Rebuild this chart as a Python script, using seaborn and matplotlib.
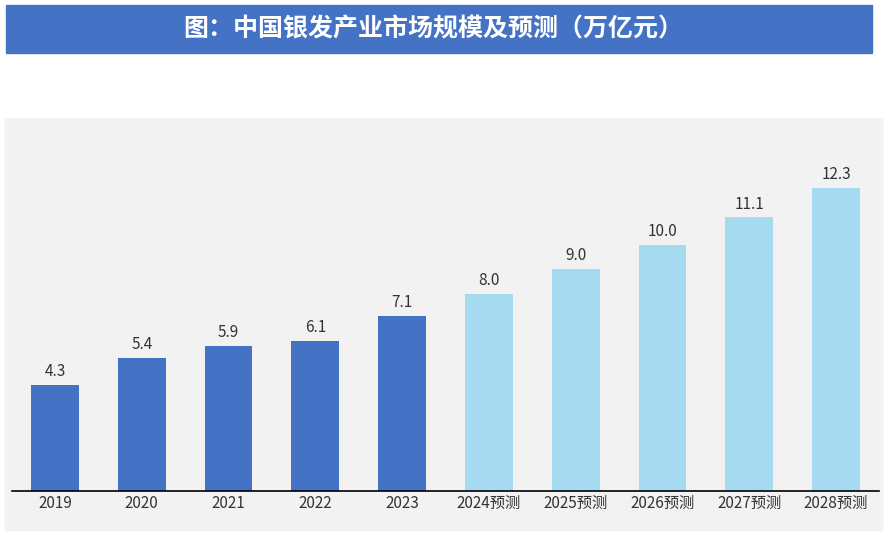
import pandas as pd
import matplotlib.pyplot as plt
import seaborn as sns
from matplotlib.patches import Rectangle

# Data
years = ['2019', '2020', '2021', '2022', '2023',
         '2024预测', '2025预测', '2026预测', '2027预测', '2028预测']
values = [4.3, 5.4, 5.9, 6.1, 7.1, 8.0, 9.0, 10.0, 11.1, 12.3]
kinds = ['实际'] * 5 + ['预测'] * 5

df = pd.DataFrame({'year': years, 'value': values, 'kind': kinds})

sns.set_theme(style="white")
plt.rcParams['font.family'] = ['Noto Sans CJK SC', 'DejaVu Sans']

fig = plt.figure(figsize=(8.87, 5.34), dpi=100)
W, H = 887, 534

# title banner and gray panel (pixel coords converted to figure fractions)
fig.patches.append(Rectangle((6 / W, 1 - 53 / H), 866 / W, 48 / H,
                             transform=fig.transFigure, color='#4472C4', zorder=0))
fig.patches.append(Rectangle((5 / W, 1 - 530 / H), 877 / W, 412 / H,
                             transform=fig.transFigure, color='#F2F2F2', zorder=0))
fig.text(433 / W, 1 - 29 / H, '图：中国银发产业市场规模及预测（万亿元）',
         ha='center', va='center', color='white', fontsize=18, fontweight='bold')

ax = fig.add_axes([11.6 / W, 1 - 491 / H, 867.8 / W, 345 / H])
ax.set_zorder(2)
ax.patch.set_alpha(0)

sns.barplot(data=df, x='year', y='value', hue='kind',
            palette={'实际': '#4472C4', '预测': '#A6DAF0'},
            dodge=False, width=0.55, saturation=1, linewidth=0,
            legend=False, ax=ax)

for i, v in enumerate(values):
    ax.text(i, v + 0.2, f'{v:.1f}', ha='center', va='bottom', fontsize=11, color='#333333')

ax.set_xlim(-0.5, 9.5)
ax.set_ylim(0, 14)
ax.set_xlabel('')
ax.set_ylabel('')
ax.set_yticks([])
ax.tick_params(axis='x', length=0, labelsize=11, labelcolor='#333333', pad=3)
for s in ['top', 'right', 'left']:
    ax.spines[s].set_visible(False)
ax.spines['bottom'].set_color('black')
ax.spines['bottom'].set_linewidth(1.2)

fig.savefig('out.png', dpi=100)
